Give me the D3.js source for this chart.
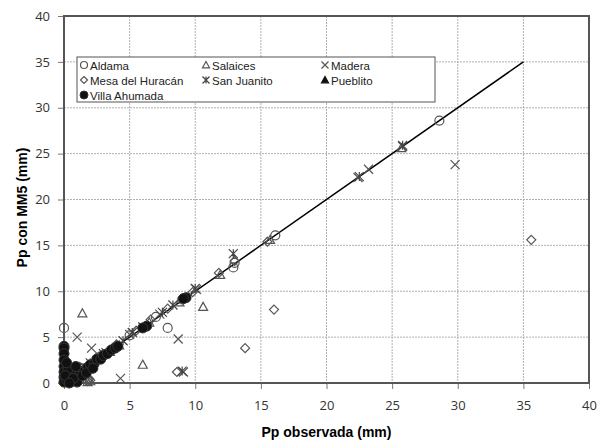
<!DOCTYPE html>
<html lang="es">
<head>
<meta charset="UTF-8">
<title>Pp observada vs MM5</title>
<style>
  body { margin: 0; background: #fff; }
  text { font-family: "Liberation Sans", Arial, sans-serif; }
</style>
</head>
<body>
<div id="chart"></div>
<script src="https://d3js.org/d3.v7.min.js"></script>
<script>
// [observada, MM5] pairs per station
const aldama = [[0,6.0],[28.6,28.6],[7.9,6.0],[16.1,16.1],[13.0,13.1],[12.9,12.6],[9.0,9.1],[3.9,3.9],
  [1.5,1.6],[0.3,0.5],[0.1,0.2],[2.8,2.9],[0.6,0.9],[5.0,5.2],[7.0,7.2],[1.0,1.1]];
const salaices = [[1.4,7.6],[6.0,2.0],[10.6,8.3],[11.9,11.8],[15.7,15.6],[25.7,25.6],[0.1,2.8],[2.0,0.2],
  [1.8,0.1],[3.5,3.4],[6.5,6.6],[0.4,0.5],[4.2,4.1],[8.8,8.8],[0.2,1.5]];
const madera = [[29.8,23.8],[22.4,22.4],[23.2,23.3],[25.8,25.8],[9.1,1.2],[8.7,4.8],[4.3,0.5],[1.0,5.0],
  [2.1,3.8],[10.1,10.2],[5.0,5.3],[7.3,7.5],[1.5,1.8],[0.3,0.4],[3.2,3.3],[0.8,0.3]];
const mesaHuracan = [[35.6,15.6],[16.0,8.0],[13.8,3.8],[8.6,1.2],[2.0,0.3],[1.8,0.2],[13.0,13.3],[9.8,9.9],
  [6.6,6.9],[5.5,5.7],[4.0,4.2],[3.0,3.1],[2.5,2.8],[0.5,0.7],[1.2,1.4],[0.1,0.1],[1.9,0.5],[11.8,12.0],
  [15.5,15.4],[7.9,8.1]];
const sanJuanito = [[12.9,14.1],[25.8,25.9],[9.0,1.3],[22.5,22.5],[10.0,10.3],[5.2,5.5],[3.0,3.2],[1.0,1.2],
  [0.2,0.1],[7.5,7.7],[6.0,6.1],[2.0,2.2],[0.5,0.8],[4.5,4.6],[8.3,8.5],[1.6,1.7]];
const pueblito = [[0,0.5],[0,1.2],[0.2,0.3],[0.5,0.4],[1.0,0.9],[0.1,2.3],[0.3,0.1],[0.6,1.4],[1.3,1.0]];
const villaAhumada = [[0,4.0],[9.3,9.3],[6.3,6.2],[0,3.8],[0,3.2],[0,2.5],[0,1.8],[0,1.2],[0,0.6],[0,0.1],
  [0.2,0.3],[0.4,0.7],[0.6,0.2],[0.8,1.0],[1.0,0.6],[1.2,1.3],[1.5,1.2],[1.8,1.7],[2.0,2.0],[2.3,2.1],
  [2.5,2.6],[2.8,2.6],[3.0,3.0],[3.3,3.2],[3.6,3.6],[3.9,3.8],[4.1,4.0],[0.3,1.5],[0.5,0.1],[0.1,0.8],
  [0.2,2.2],[6.0,6.0],[9.1,9.2],[1.0,0.1],[0.7,0.5],[1.4,0.8],[0.9,1.8],[1.7,1.1],[2.2,1.6],[0.4,0.0]];

const stations = ["Aldama", "Salaices", "Madera", "Mesa del Huracán", "San Juanito", "Pueblito", "Villa Ahumada"];
const seriesData = [aldama, salaices, madera, mesaHuracan, sanJuanito, pueblito, villaAhumada];
const markers = ["circle", "triangle", "x", "diamond", "star", "triangleFilled", "dot"];
const ticks = [0, 5, 10, 15, 20, 25, 30, 35, 40];
const lineEnds = [0, 35];

const width = 600, height = 442;
const margin = {top: 16, right: 11, bottom: 59, left: 64};

const svg = d3.select("#chart").append("svg")
  .attr("width", width).attr("height", height);

const x = d3.scaleLinear().domain([0, 40]).range([margin.left, width - margin.right]);
const y = d3.scaleLinear().domain([0, 40]).range([height - margin.bottom, margin.top]);

// grid
svg.append("g").selectAll("line").data(ticks.slice(1, -1)).enter().append("line")
  .attr("x1", d => x(d)).attr("x2", d => x(d))
  .attr("y1", y(40)).attr("y2", y(0))
  .attr("stroke", "#b0b0b0").attr("stroke-dasharray", "2,1");
svg.append("g").selectAll("line").data(ticks.slice(1, -1)).enter().append("line")
  .attr("y1", d => y(d)).attr("y2", d => y(d))
  .attr("x1", x(0)).attr("x2", x(40))
  .attr("stroke", "#b0b0b0").attr("stroke-dasharray", "2,1");

// axes
const xAxis = svg.append("g").attr("transform", "translate(0," + y(0) + ")")
  .call(d3.axisBottom(x).tickValues(ticks).tickSize(6).tickPadding(12));
const yAxis = svg.append("g").attr("transform", "translate(" + x(0) + ",0)")
  .call(d3.axisLeft(y).tickValues(ticks).tickSize(6).tickPadding(8));
[xAxis, yAxis].forEach(a => {
  a.select(".domain").remove();
  a.selectAll("line").attr("stroke", "#777");
  a.selectAll("text").attr("font-size", 13).attr("fill", "#333")
    .style("font-family", "'Open Sans', 'Liberation Sans', sans-serif");
});

// plot frame
svg.append("rect")
  .attr("x", x(0)).attr("y", y(40))
  .attr("width", x(40) - x(0)).attr("height", y(0) - y(40))
  .attr("fill", "none").attr("stroke", "#555").attr("stroke-width", 2);

// 1:1 line
svg.append("line")
  .attr("x1", x(lineEnds[0])).attr("y1", y(lineEnds[0]))
  .attr("x2", x(lineEnds[1])).attr("y2", y(lineEnds[1]))
  .attr("stroke", "#000").attr("stroke-width", 1.5);

function drawMarker(g, type, s) {
  const r = s / 2;
  if (type === "circle") {
    g.append("circle").attr("r", r).attr("fill", "none").attr("stroke", "#555").attr("stroke-width", 1.2);
  } else if (type === "dot") {
    g.append("circle").attr("r", r + 0.5).attr("fill", "#111").attr("stroke", "#333");
  } else if (type === "triangle" || type === "triangleFilled") {
    const filled = type === "triangleFilled";
    g.append("path").attr("d", `M0,${-r}L${r},${r * 0.8}L${-r},${r * 0.8}Z`)
      .attr("fill", filled ? "#111" : "none").attr("stroke", filled ? "#111" : "#555").attr("stroke-width", 1.2);
  } else if (type === "diamond") {
    g.append("path").attr("d", `M0,${-r}L${r},0L0,${r}L${-r},0Z`)
      .attr("fill", "none").attr("stroke", "#555").attr("stroke-width", 1.2);
  } else if (type === "x") {
    g.append("path").attr("d", `M${-r},${-r}L${r},${r}M${-r},${r}L${r},${-r}`)
      .attr("stroke", "#555").attr("stroke-width", 1.2);
  } else if (type === "star") {
    g.append("path").attr("d", `M${-r},${-r}L${r},${r}M${-r},${r}L${r},${-r}M0,${-r}L0,${r}`)
      .attr("stroke", "#444").attr("stroke-width", 1.2);
  }
}

// points
seriesData.forEach((data, i) => {
  svg.append("g").selectAll("g").data(data).enter().append("g")
    .attr("transform", d => "translate(" + x(d[0]) + "," + y(d[1]) + ")")
    .each(function () { drawMarker(d3.select(this), markers[i], 9); });
});

// axis titles
svg.append("text")
  .attr("x", (x(0) + x(40)) / 2).attr("y", 437)
  .attr("text-anchor", "middle").attr("font-size", 14).attr("font-weight", "bold")
  .text("Pp observada (mm)");
svg.append("text")
  .attr("transform", "translate(27," + ((y(0) + y(40)) / 2 + 8) + ") rotate(-90)")
  .attr("text-anchor", "middle").attr("font-size", 14).attr("font-weight", "bold")
  .text("Pp con MM5 (mm)");

// legend
const legend = svg.append("g");
legend.append("rect")
  .attr("x", 77).attr("y", 57).attr("width", 358).attr("height", 45)
  .attr("fill", "#fff").attr("stroke", "#555");
const colX = [84, 206, 325];
stations.forEach((name, i) => {
  const lg = legend.append("g")
    .attr("transform", "translate(" + colX[i % 3] + "," + (65 + Math.floor(i / 3) * 15) + ")");
  drawMarker(lg.append("g"), markers[i], 7);
  lg.append("text").attr("x", 6).attr("y", 4.5).attr("font-size", 11.5).attr("fill", "#222").text(name);
});
</script>
</body>
</html>
